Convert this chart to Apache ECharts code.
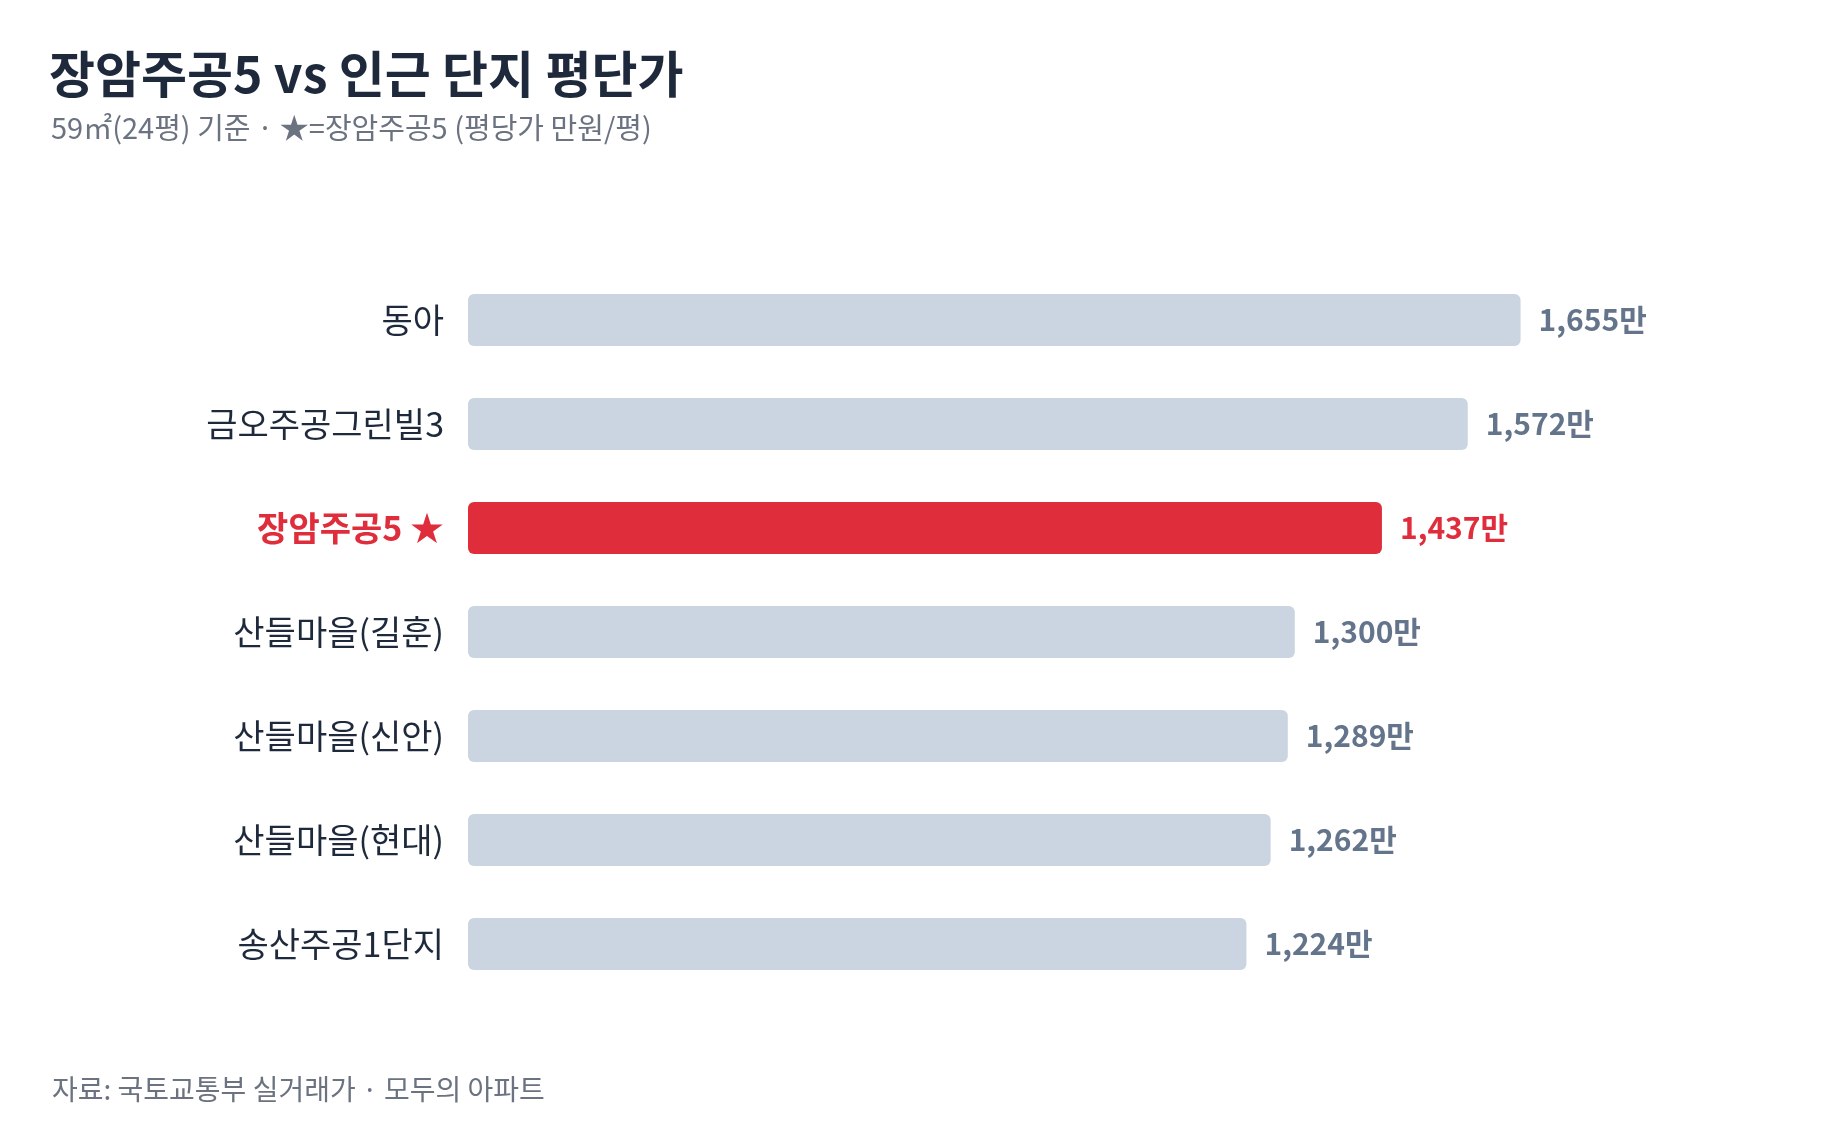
<!DOCTYPE html>
<html>
<head>
<meta charset="utf-8">
<script src="https://cdn.jsdelivr.net/npm/echarts@6/dist/echarts.min.js"></script>
<style>
  html, body { margin: 0; padding: 0; background: #fff; }
  #chart { width: 1840px; height: 1126px; }
</style>
</head>
<body>
<div id="chart"></div>
<script>
// 단지별 평단가 (만원/평)
const categories = ['동아', '금오주공그린빌3', '장암주공5', '산들마을(길훈)', '산들마을(신안)', '산들마을(현대)', '송산주공1단지'];
const values = [1655, 1572, 1437, 1300, 1289, 1262, 1224];
const highlight = '장암주공5';

const FONT = "'Noto Sans CJK KR', 'Noto Sans', sans-serif";
const RED = '#e02d3c';
const GRAY = '#cbd5e1';

const chart = echarts.init(document.getElementById('chart'));

const option = {
  backgroundColor: '#fff',
  title: [
    {
      text: '장암주공5 vs 인근 단지 평단가',
      left: 44,
      top: 44,
      textStyle: { fontFamily: FONT, fontSize: 50, fontWeight: 'bold', color: '#1e293b' }
    },
    {
      text: '59㎡(24평) 기준 · ★=장암주공5 (평당가 만원/평)',
      left: 46,
      top: 108,
      textStyle: { fontFamily: FONT, fontSize: 29, fontWeight: 'normal', color: '#6b7280' }
    },
    {
      text: '자료: 국토교통부 실거래가 · 모두의 아파트',
      left: 47,
      top: 1070,
      textStyle: { fontFamily: FONT, fontSize: 28, fontWeight: 'normal', color: '#6b7280' }
    }
  ],
  grid: { left: 468, right: 100, top: 268, bottom: 130 },
  xAxis: {
    type: 'value',
    min: 0,
    max: 2000,
    show: false
  },
  yAxis: {
    type: 'category',
    data: categories,
    inverse: true,
    axisLine: { show: false },
    axisTick: { show: false },
    axisLabel: {
      margin: 24,
      formatter: (v) => v === highlight ? '{hl|' + v + ' ★}' : '{n|' + v + '}',
      rich: {
        n: { fontFamily: FONT, fontSize: 34, color: '#1e293b' },
        hl: { fontFamily: FONT, fontSize: 34, fontWeight: 'bold', color: RED }
      }
    }
  },
  series: [
    {
      type: 'bar',
      barWidth: 52,
      data: values.map((v, i) => ({
        value: v,
        itemStyle: { color: categories[i] === highlight ? RED : GRAY, borderRadius: 6 },
        label: { color: categories[i] === highlight ? RED : '#64748b' }
      })),
      label: {
        show: true,
        position: 'right',
        distance: 18,
        fontFamily: FONT,
        fontSize: 30,
        fontWeight: 'bold',
        formatter: (p) => p.value.toLocaleString('en-US') + '만'
      },
      silent: true
    }
  ]
};

chart.setOption(option);
</script>
</body>
</html>
